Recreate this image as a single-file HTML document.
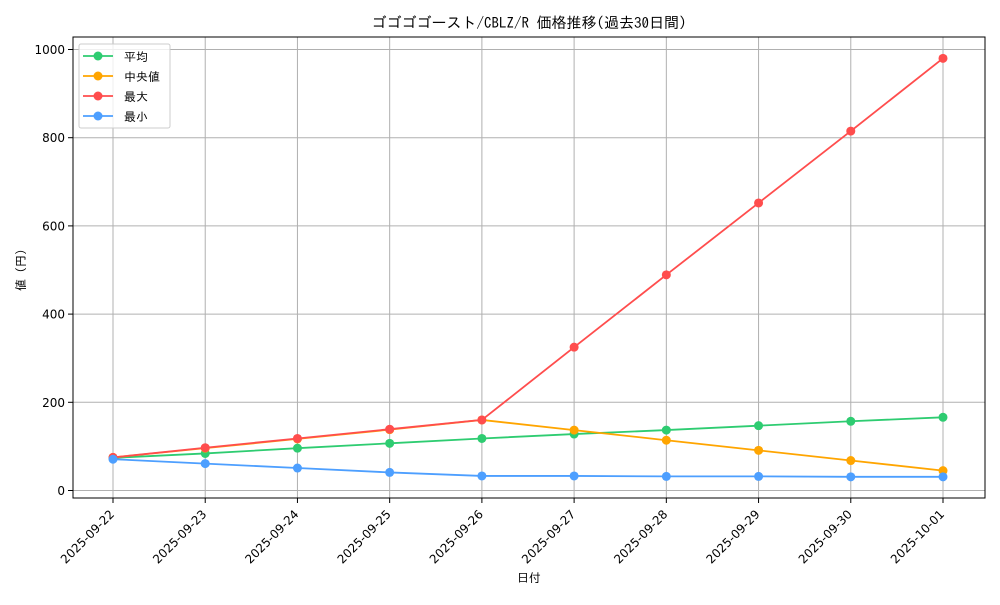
<!DOCTYPE html>
<html><head><meta charset="utf-8"><style>
body{margin:0;background:#fff}
svg text{font-family:"IPAGothic","Noto Sans CJK JP",sans-serif;fill:#000}
svg text.num{font-family:"DejaVu Sans","Liberation Sans",sans-serif}
</style></head><body>
<svg id="chart" width="1000" height="600" viewBox="0 0 1000 600" xmlns="http://www.w3.org/2000/svg">
<text x="529" y="28" font-size="15" text-anchor="middle">ゴゴゴゴースト/CBLZ/R 価格推移(過去30日間)</text>
<g id="grid"></g>
<g id="axes"></g>
<g id="series"></g>
<rect x="73" y="37" width="912" height="461" fill="none" stroke="#000" stroke-width="1"/>
<text x="529" y="582" font-size="12" text-anchor="middle">日付</text>
<text x="25" y="270" font-size="12" text-anchor="middle" transform="rotate(-90 25 270)">値 (円)</text>
<g id="legend"></g>
</svg>
<script>
const categories=["2025-09-22","2025-09-23","2025-09-24","2025-09-25","2025-09-26","2025-09-27","2025-09-28","2025-09-29","2025-09-30","2025-10-01"];
const meanValues=[74,84,96,107,118,128,137,147,157,166];
const medianValues=[75,96,117,138,160,137,114,91,68,45];
const maxValues=[75,97,118,139,160,325,489,652,815,980];
const minValues=[71,61,51,41,33,33,32,32,31,31];
const yTicks=[0,200,400,600,800,1000];
const seriesNames=["平均","中央値","最大","最小"];
const seriesColors=["#2ecc71","#ffa500","#ff4d4d","#4d9fff"];
const NS="http://www.w3.org/2000/svg";
const X=i=>113+i*(943-113)/(categories.length-1);
const Y=v=>490.5-v*(441/1000);
function mk(tag,attrs,parent){const e=document.createElementNS(NS,tag);for(const k in attrs)e.setAttribute(k,attrs[k]);parent.appendChild(e);return e;}
const grid=document.getElementById('grid'),axes=document.getElementById('axes'),series=document.getElementById('series'),legend=document.getElementById('legend');
categories.forEach((c,i)=>{
 const g=mk('line',{x1:X(i),x2:X(i),y1:37,y2:498,stroke:'#b0b0b0','stroke-width':1},grid);
 
 
 const t=mk('line',{x1:X(i),x2:X(i),y1:498,y2:503,stroke:'#000'},axes);
 
 
 const lx=X(i)+2,ly=515;
 const l=mk('text',{class:'num',x:lx,y:ly,'font-size':12,'text-anchor':'end',transform:`rotate(-45 ${lx} ${ly})`},axes);
 l.textContent=c;
 
 
});
yTicks.forEach(v=>{
 const g=mk('line',{x1:73,x2:985,y1:Y(v),y2:Y(v),stroke:'#b0b0b0','stroke-width':1},grid);
 
 
 const t=mk('line',{x1:68,x2:73,y1:Y(v),y2:Y(v),stroke:'#000'},axes);
 
 
 const l=mk('text',{class:'num',x:65,y:Y(v)+4.5,'font-size':12,'text-anchor':'end'},axes);
 l.textContent=v;
 
 
});
const data=[meanValues,medianValues,maxValues,minValues];
data.forEach((vals,s)=>{
 const p=mk('polyline',{points:vals.map((v,i)=>X(i)+','+Y(v)).join(' '),fill:'none',stroke:seriesColors[s],'stroke-width':1.8},series);
 
 
 vals.forEach((v,i)=>{
  const c=mk('circle',{cx:X(i),cy:Y(v),r:4.5,fill:seriesColors[s]},series);
  
  
 });
});
const box=mk('rect',{x:79,y:44,width:91,height:84,rx:2,fill:'#fff','fill-opacity':0.8,stroke:'#ccc'},legend);


seriesNames.forEach((n,s)=>{
 const y=56+s*20;
 const g=mk('g',{},legend);
 
 
 mk('line',{x1:83,x2:113,y1:y,y2:y,stroke:seriesColors[s],'stroke-width':1.8},g);
 mk('circle',{cx:98,cy:y,r:4.5,fill:seriesColors[s]},g);
 const t=mk('text',{x:124,y:y+5,'font-size':12},g);
 t.textContent=n;
});
</script>
</body></html>
